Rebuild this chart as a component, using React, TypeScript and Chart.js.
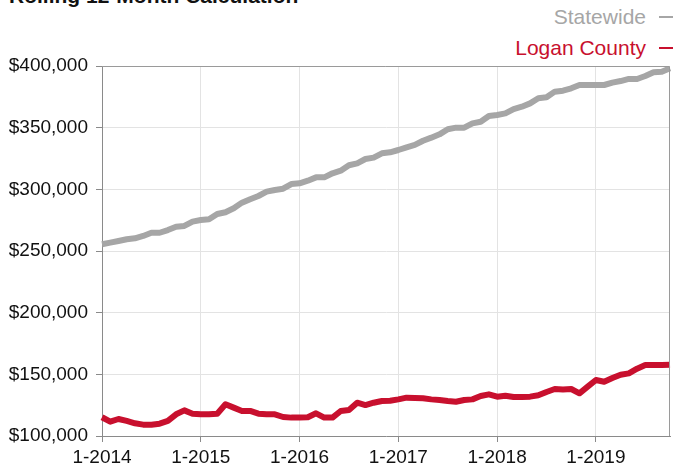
import React, { useEffect, useRef } from "react";
import { Chart, registerables } from "chart.js";

Chart.register(...registerables);

const years = [2014, 2015, 2016, 2017, 2018, 2019];
const lastMonthOf2019 = 10;

const statewide = [
  255500, 256800, 258100, 259500, 260300, 262200, 264800, 264800, 267000, 269700, 270300, 273800,
  275100, 275700, 280000, 281400, 284600, 289200, 292000, 294600, 298100, 299500, 300500, 304300,
  304900, 307000, 309700, 309700, 313000, 315100, 319500, 321100, 324600, 325700, 329200, 330000,
  331900, 334100, 336000, 339400, 341900, 344600, 348700, 350000, 350000, 353500, 354800, 359500,
  360300, 361600, 365100, 367000, 369700, 373800, 374600, 379200, 380000, 381900, 384600, 384600,
  384600, 384600, 386500, 387800, 389500, 389500, 391900, 394900, 395400, 398100,
];

const logan = [
  115200, 111600, 113800, 112200, 110300, 109200, 109200, 110000, 112200, 117600, 120800, 118100,
  117600, 117600, 118100, 125700, 123000, 120300, 120300, 118100, 117600, 117600, 115400, 114900,
  115000, 115200, 118400, 114900, 114900, 120300, 121100, 127000, 125100, 127000, 128400, 128600,
  129700, 131100, 130800, 130600, 129700, 129200, 128400, 127800, 129200, 129700, 132400, 133800,
  131900, 132700, 131600, 131600, 131900, 133000, 135700, 138100, 137800, 138100, 134600, 140000,
  145400, 144000, 147000, 149700, 150800, 154600, 157600, 157600, 157600, 157800,
];

const yMin = 100000;
const yMax = 400000;
const yStep = 50000;

const titleText = "Rolling 12-Month Calculation";
const seriesNames = ["Statewide", "Logan County"];
const grayColor = "#a6a6a6";
const redColor = "#c8102e";

const labels: string[] = [];
years.forEach((y) => {
  const maxM = y === 2019 ? lastMonthOf2019 : 12;
  for (let m = 1; m <= maxM; m++) labels.push(`${m}-${y}`);
});

const FONT = "'Liberation Sans', Arial, Helvetica, sans-serif";

const frameBorder = {
  id: "frameBorder",
  afterDraw(chart: any) {
    const { ctx, chartArea } = chart;
    ctx.save();
    ctx.strokeStyle = "#9a9a9a";
    ctx.lineWidth = 1;
    ctx.beginPath();
    ctx.moveTo(chartArea.left, chartArea.top + 0.5);
    ctx.lineTo(chartArea.right - 0.5, chartArea.top + 0.5);
    ctx.lineTo(chartArea.right - 0.5, chartArea.bottom);
    ctx.stroke();
    ctx.restore();
  },
};

export default function App() {
  const ref = useRef<HTMLCanvasElement | null>(null);

  useEffect(() => {
    if (!ref.current) return;
    const isJan = (i: number) => labels[i] && labels[i].startsWith("1-");
    const chart = new Chart(ref.current, {
      type: "line",
      data: {
        labels,
        datasets: [
          {
            label: seriesNames[0],
            data: statewide,
            borderColor: grayColor,
            backgroundColor: grayColor,
            borderWidth: 6,
            pointRadius: 0,
            tension: 0,
            borderJoinStyle: "round",
          },
          {
            label: seriesNames[1],
            data: logan,
            borderColor: redColor,
            backgroundColor: redColor,
            borderWidth: 6,
            pointRadius: 0,
            tension: 0,
            borderJoinStyle: "round",
          },
        ],
      },
      options: {
        responsive: false,
        animation: false,
        devicePixelRatio: 1,
        layout: { padding: { top: 66, right: 2, left: 0, bottom: 0 } },
        plugins: {
          legend: { display: false },
          tooltip: { enabled: false },
          title: { display: false },
        },
        scales: {
          x: {
            type: "category",
            offset: false,
            afterFit: (s: any) => {
              s.height = 32;
            },
            grid: {
              color: (c: any) => (isJan(c.index) ? "#e3e3e3" : "rgba(0,0,0,0)"),
              tickColor: (c: any) => (isJan(c.index) ? "#8a8a8a" : "rgba(0,0,0,0)"),
              tickLength: 6,
              drawOnChartArea: true,
            },
            border: { color: "#8a8a8a", width: 1 },
            ticks: {
              autoSkip: false,
              maxRotation: 0,
              minRotation: 0,
              padding: 4,
              color: "#111",
              font: { family: FONT, size: 19 },
              callback: (_v: any, i: number) => (isJan(i) ? labels[i] : ""),
            },
          },
          y: {
            min: yMin,
            max: yMax,
            afterFit: (s: any) => {
              s.width = 102;
            },
            grid: { color: "#e3e3e3", tickColor: "#8a8a8a", tickLength: 6 },
            border: { color: "#8a8a8a", width: 1 },
            ticks: {
              stepSize: yStep,
              padding: 8,
              color: "#111",
              font: { family: FONT, size: 19 },
              callback: (v: any) => "$" + Number(v).toLocaleString("en-US"),
            },
          },
        },
      },
      plugins: [frameBorder],
    } as any);
    return () => chart.destroy();
  }, []);

  const legendRow = (text: string, color: string, top: number) => (
    <div
      style={{
        position: "absolute",
        right: 0,
        top,
        display: "flex",
        alignItems: "center",
        color,
        fontFamily: FONT,
        fontSize: 21,
        lineHeight: "24px",
        whiteSpace: "nowrap",
      }}
    >
      <span>{text}</span>
      <span
        style={{
          display: "inline-block",
          width: 14,
          height: 2,
          background: color,
          marginLeft: 13,
          marginRight: 1,
        }}
      />
    </div>
  );

  return (
    <div
      style={{
        position: "fixed",
        left: 0,
        top: 0,
        width: 674,
        height: 468,
        overflow: "hidden",
        background: "#fff",
      }}
    >
      <div
        style={{
          position: "absolute",
          left: 9,
          top: -14,
          fontFamily: FONT,
          fontWeight: "bold",
          fontSize: 21,
          lineHeight: "20px",
          color: "#111",
          whiteSpace: "nowrap",
        }}
      >
        {titleText}
      </div>
      {legendRow(seriesNames[0], grayColor, 5)}
      {legendRow(seriesNames[1], redColor, 36)}
      <canvas
        ref={ref}
        width={674}
        height={468}
        style={{ position: "absolute", left: 0, top: 0, width: 674, height: 468 }}
      />
    </div>
  );
}
